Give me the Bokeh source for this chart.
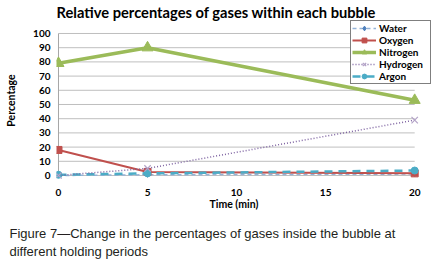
from bokeh.plotting import figure
from bokeh.models import Range1d, FixedTicker, Legend, LegendItem, Title
from bokeh.embed import file_html
from bokeh.resources import INLINE

time_min = [0, 5, 20]
water = [0, 0.5, 1]
oxygen = [18, 2.5, 1.5]
nitrogen = [79, 90, 53]
hydrogen = [0, 5, 39]
argon = [0.5, 1.5, 3.5]

x_ticks = [0, 5, 10, 15, 20]
y_ticks = [0, 10, 20, 30, 40, 50, 60, 70, 80, 90, 100]

title_text = "Relative percentages of gases within each bubble"
x_label = "Time (min)"
y_label = "Percentage"
caption1 = "Figure 7\u2014Change in the percentages of gases inside the bubble at"
caption2 = "different holding periods"

FONT = "Lato"

p = figure(width=436, height=268, output_backend="svg", toolbar_location=None,
           x_range=Range1d(-0.112, 21.0), y_range=Range1d(-3.52, 109.15),
           min_border_left=56, min_border_right=4, min_border_top=20,
           min_border_bottom=88, outline_line_color=None)

# grid drawn between first and last time tick
p.xgrid.visible = False
p.ygrid.visible = False
p.segment(x0=[x_ticks[0]] * len(y_ticks), x1=[x_ticks[-1]] * len(y_ticks),
          y0=y_ticks, y1=y_ticks, line_color="#BFBFBF", line_width=1)
p.segment(x0=[x_ticks[0]], x1=[x_ticks[0]], y0=[y_ticks[0]], y1=[y_ticks[-1]],
          line_color="#A6A6A6", line_width=1)

# axes
p.xaxis.ticker = FixedTicker(ticks=x_ticks)
p.yaxis.ticker = FixedTicker(ticks=y_ticks)
for ax in (p.xaxis[0], p.yaxis[0]):
    ax.axis_line_color = None
    ax.major_tick_line_color = None
    ax.minor_tick_line_color = None
    ax.major_tick_out = 0
    ax.major_tick_in = 0
    ax.major_label_text_font = FONT
    ax.major_label_text_font_style = "bold"
    ax.major_label_text_font_size = "10px"
    ax.major_label_text_color = "black"
    ax.axis_label_text_font = FONT
    ax.axis_label_text_font_style = "bold"
    ax.axis_label_text_font_size = "10.5px"
    ax.axis_label_text_color = "black"
p.xaxis.major_label_standoff = 8
p.yaxis.major_label_standoff = 6
p.yaxis.axis_label = y_label
p.yaxis.axis_label_standoff = 13

# series
rw_l = p.line(time_min, water, line_color="#95B3D7", line_width=1.5, line_dash="4 3")
rw_m = p.scatter(time_min, water, marker="diamond", size=5, fill_color="#4F81BD", line_color="#4F81BD")
ro_l = p.line(time_min, oxygen, line_color="#C0504D", line_width=2)
ro_m = p.scatter(time_min, oxygen, marker="square", size=7, fill_color="#C0504D", line_color="#C0504D")
ra_l = p.line(time_min, argon, line_color="#4BACC6", line_width=2.5, line_dash="8 6")
ra_m = p.scatter(time_min, argon, marker="circle", size=7, fill_color="#4BACC6", line_color="#4BACC6")
rh_l = p.line(time_min, hydrogen, line_color="#7F64A2", line_width=1.5, line_dash="1 2")
rh_m = p.scatter(time_min, hydrogen, marker="x", size=9, line_color="#B3A2C7", line_width=1.2)
rn_l = p.line(time_min, nitrogen, line_color="#9BBB59", line_width=3.5)
rn_m = p.scatter(time_min, nitrogen, marker="triangle", size=11, fill_color="#9BBB59", line_color="#9BBB59")

legend = Legend(items=[
    LegendItem(label="Water", renderers=[rw_l, rw_m]),
    LegendItem(label="Oxygen", renderers=[ro_l, ro_m]),
    LegendItem(label="Nitrogen", renderers=[rn_l, rn_m]),
    LegendItem(label="Hydrogen", renderers=[rh_l, rh_m]),
    LegendItem(label="Argon", renderers=[ra_l, ra_m]),
], location=(294, 96))
legend.label_text_font = FONT
legend.label_text_font_style = "bold"
legend.label_text_font_size = "10px"
legend.label_text_color = "black"
legend.label_height = 12
legend.label_width = 50
legend.glyph_height = 12
legend.glyph_width = 24
legend.label_standoff = 3
legend.spacing = 0
legend.padding = 1
legend.margin = 0
legend.border_line_color = "black"
legend.border_line_width = 1
legend.background_fill_color = "white"
legend.background_fill_alpha = 1
p.add_layout(legend, "center")

p.add_layout(Title(text=title_text, text_font=FONT, text_font_style="bold",
                   text_font_size="14.7px", text_color="black", align="left",
                   offset=0, standoff=0), "above")

# below texts: negative standoffs collapse their panels, so each is placed
# directly by its standoff
p.add_layout(Title(text=x_label, text_font=FONT, text_font_style="bold",
                   text_font_size="10.5px", text_color="black", align="left",
                   offset=153, standoff=-22), "below")

for line, gap in ((caption1, -84), (caption2, -120)):
    p.add_layout(Title(text=line, text_font="Liberation Sans", text_font_style="normal",
                       text_font_size="13px", text_color="#231F20", align="left",
                       offset=-47, standoff=gap), "below")

open("out.html", "w").write(file_html(p, INLINE))
